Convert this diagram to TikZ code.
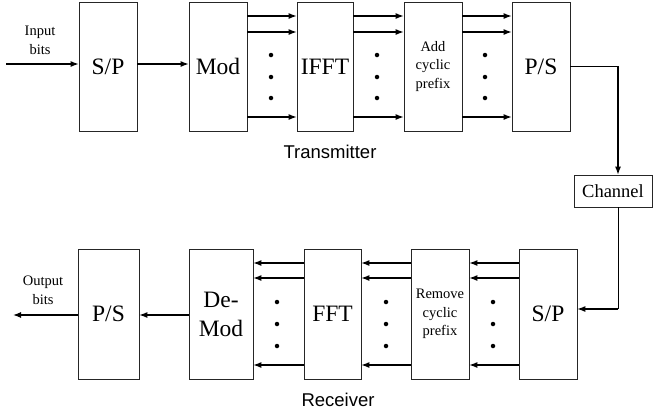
\documentclass[tikz,border=0pt]{standalone}
\usepackage{fontspec}
\setmainfont{Liberation Serif}
\setsansfont{Liberation Sans}
\usetikzlibrary{arrows.meta}
\tikzset{
  blk/.style={draw=black!85, line width=0.7pt, inner sep=0pt, align=center, font=\fontsize{23.5}{29}\selectfont},
  arr/.style={line width=1.2pt, -{Latex[length=8pt,width=6pt]}},
  thinline/.style={line width=0.8pt},
  dot/.style={fill=black, circle, inner sep=0pt, minimum size=4.5pt},
  small/.style={align=center, font=\fontsize{14.5}{19}\selectfont},
  caption/.style={font=\sffamily\fontsize{18.5}{22}\selectfont}
}
\begin{document}
\begin{tikzpicture}[x=1pt,y=-1pt]
\useasboundingbox (0,0) rectangle (654,413);
% transmitter boxes
\node[blk, minimum width=58pt, minimum height=129pt] (sp1) at (108,66.5) {S/P};
\node[blk, minimum width=58pt, minimum height=129pt] (mod) at (218,66.5) {Mod};
\node[blk, minimum width=56pt, minimum height=129pt] (ifft) at (325,66.5) {IFFT};
\node[blk, minimum width=58pt, minimum height=129pt, font=\fontsize{14.5}{18.5}\selectfont] (acp) at (433,66.5) {Add\\cyclic\\prefix};
\node[blk, minimum width=58pt, minimum height=129pt] (ps1) at (541,66.5) {P/S};
% receiver boxes
\node[blk, minimum width=61pt, minimum height=130pt] (ps2) at (108.5,314) {P/S};
\node[blk, minimum width=64pt, minimum height=130pt] (dem) at (221,314) {De-\\Mod};
\node[blk, minimum width=57pt, minimum height=130pt] (fft) at (332.5,314) {FFT};
\node[blk, minimum width=58pt, minimum height=130pt, font=\fontsize{14.5}{18.5}\selectfont] (rcp) at (440,314) {Remove\\cyclic\\prefix};
\node[blk, minimum width=58pt, minimum height=130pt] (sp2) at (548,314) {S/P};
% channel
\node[blk, minimum width=78pt, minimum height=32pt, font=\fontsize{18.5}{22}\selectfont] (ch) at (613,191) {Channel};
% labels
\node[small] (inl) at (40,40) {Input\\bits};
\node[small] (outl) at (43,290) {Output\\bits};
\node[caption] (tx) at (330,152) {Transmitter};
\node[caption] (rx) at (338,400) {Receiver};
% coordinates
\coordinate (in) at (6,64);
\coordinate (out) at (13,315);
\coordinate (t1) at (0,16);
\coordinate (t2) at (0,32);
\coordinate (t3) at (0,117);
\coordinate (b1) at (0,263);
\coordinate (b2) at (0,278);
\coordinate (b3) at (0,365);
\coordinate (cx) at (618,66);
\coordinate (cy) at (618,309);
% transmitter connectors
\draw[arr] (in) -- (sp1.west |- in);
\draw[arr] (sp1.east |- in) -- (mod.west |- in);
\foreach \r in {t1,t2,t3}{
  \draw[arr] (mod.east |- \r) -- (ifft.west |- \r);
  \draw[arr] (ifft.east |- \r) -- (acp.west |- \r);
  \draw[arr] (acp.east |- \r) -- (ps1.west |- \r);
}
\foreach \y in {55,77,98}{
  \node[dot] at (271,\y) {};
  \node[dot] at (377,\y) {};
  \node[dot] at (485,\y) {};
}
\draw[thinline] (ps1.east |- cx) -- (cx);
\draw[arr] (cx) -- (cx |- ch.north);
\draw[thinline] (cy |- ch.south) -- (cy);
\draw[arr] (cy) -- (sp2.east |- cy);
% receiver connectors
\foreach \r in {b1,b2,b3}{
  \draw[arr] (sp2.west |- \r) -- (rcp.east |- \r);
  \draw[arr] (rcp.west |- \r) -- (fft.east |- \r);
  \draw[arr] (fft.west |- \r) -- (dem.east |- \r);
}
\foreach \y in {302,324,346}{
  \node[dot] at (277,\y) {};
  \node[dot] at (386,\y) {};
  \node[dot] at (493,\y) {};
}
\draw[arr] (dem.west |- out) -- (ps2.east |- out);
\draw[arr] (ps2.west |- out) -- (out);
\end{tikzpicture}
\end{document}
